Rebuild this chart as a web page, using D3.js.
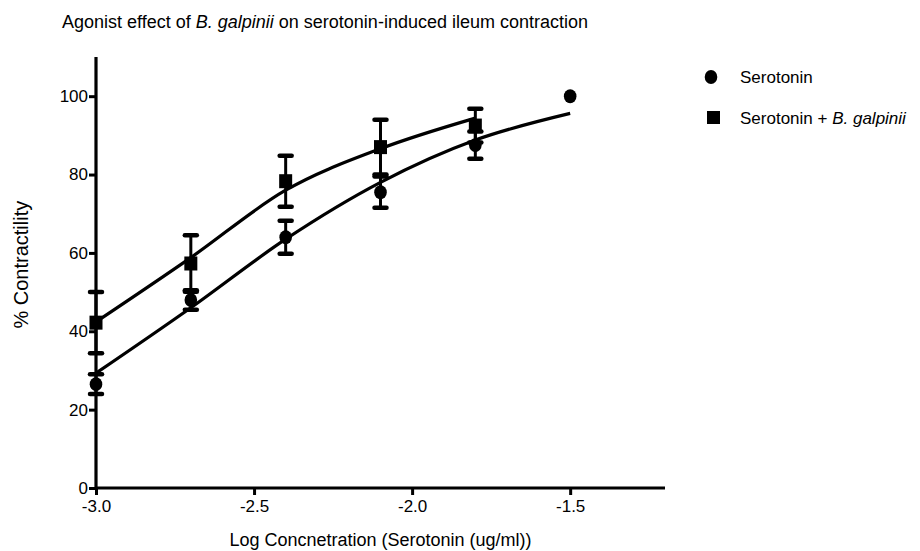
<!DOCTYPE html>
<html>
<head>
<meta charset="utf-8">
<script src="https://cdn.jsdelivr.net/npm/d3@7"></script>
<style>
  body { margin: 0; background: #fff; }
  svg { font-family: "Liberation Sans", Arial, sans-serif; }
</style>
</head>
<body>
<script>
// doses (log concentration)
const logDose = [-3.0, -2.7, -2.4, -2.1, -1.8, -1.5];

// mean % contractility and error
const serotoninMean = [26.5, 48.0, 64.0, 75.5, 87.5, 100.0];
const serotoninErr  = [2.5, 2.5, 4.2, 4.0, 3.5, 0];
const combinedDose  = [-3.0, -2.7, -2.4, -2.1, -1.8];
const combinedMean  = [42.2, 57.3, 78.3, 87.0, 92.5];
const combinedErr   = [7.8, 7.2, 6.5, 7.0, 4.3];

// fitted curve, sampled from the figure
const serotoninFit = [29.3, 46.0, 63.5, 78.0, 88.8, 95.6];
const combinedFit  = [42.4, 58.8, 76.0, 86.6, 94.4];

const xTicks = [-3.0, -2.5, -2.0, -1.5];
const yTicks = [0, 20, 40, 60, 80, 100];

const W = 920, H = 551;
const margin = { top: 57, right: 255, bottom: 63, left: 96 };

const svg = d3.select('body').append('svg')
  .attr('width', W)
  .attr('height', H);

const x = d3.scaleLinear().domain([-3, -1.2]).range([margin.left, W - margin.right]);
const y = d3.scaleLinear().domain([0, 110]).range([H - margin.bottom, margin.top]);

// title
const title = svg.append('text')
  .attr('x', 62).attr('y', 28)
  .style('font-size', '18px');
title.append('tspan').text('Agonist effect of ');
title.append('tspan').style('font-style', 'italic').text('B. galpinii');
title.append('tspan').text(' on serotonin-induced ileum contraction');

// axes
const xAxis = svg.append('g')
  .attr('transform', `translate(0,${y(0)})`)
  .call(d3.axisBottom(x).tickValues(xTicks).tickFormat(d3.format('.1f')).tickSize(7).tickSizeOuter(0));
const yAxis = svg.append('g')
  .attr('transform', `translate(${x(-3)},0)`)
  .call(d3.axisLeft(y).tickValues(yTicks).tickSize(7).tickSizeOuter(0));

[xAxis, yAxis].forEach(g => {
  g.select('.domain').attr('stroke', '#000').attr('stroke-width', 3.2);
  g.selectAll('.tick line').attr('stroke', '#000').attr('stroke-width', 3);
  g.selectAll('.tick text').attr('fill', '#000').style('font-size', '17px').style('font-family', '"Liberation Sans", Arial, sans-serif');
});
xAxis.selectAll('.tick text').attr('dy', '0.8em').text(d => d3.format('.1f')(d).replace('\u2212', '-'));
yAxis.selectAll('.tick text').attr('dx', '2px');
xAxis.select('.domain').attr('d', `M${x(-3)},0H${x(-1.2)}`);
yAxis.select('.domain').attr('d', `M0,${y(0)}V${y(110)}`);

// axis titles
svg.append('text')
  .attr('x', (x(-3) + x(-1.2)) / 2).attr('y', 546)
  .attr('text-anchor', 'middle')
  .style('font-size', '18px')
  .text('Log Concnetration (Serotonin (ug/ml))');
svg.append('text')
  .attr('transform', `translate(28,${y(57)}) rotate(-90)`)
  .attr('text-anchor', 'middle')
  .style('font-size', '20px')
  .text('% Contractility');

// curves
const line = d3.line().x(d => x(d[0])).y(d => y(d[1])).curve(d3.curveMonotoneX);
const plot = svg.append('g');
plot.append('path')
  .datum(d3.zip(logDose, serotoninFit))
  .attr('d', line).attr('fill', 'none').attr('stroke', '#000').attr('stroke-width', 3.2);
plot.append('path')
  .datum(d3.zip(combinedDose, combinedFit))
  .attr('d', line).attr('fill', 'none').attr('stroke', '#000').attr('stroke-width', 3.2);

// error bars
function errorBars(dose, mean, err) {
  const g = plot.append('g');
  const data = d3.zip(dose, mean, err).filter(d => d[2] > 0);
  g.selectAll('line.v').data(data).join('line')
    .attr('x1', d => x(d[0])).attr('x2', d => x(d[0]))
    .attr('y1', d => y(d[1] - d[2])).attr('y2', d => y(d[1] + d[2]))
    .attr('stroke', '#000').attr('stroke-width', 3);
  [-1, 1].forEach(s => {
    g.selectAll('line.c' + (s + 1)).data(data).join('line')
      .attr('x1', d => x(d[0]) - 6).attr('x2', d => x(d[0]) + 6)
      .attr('y1', d => y(d[1] + s * d[2])).attr('y2', d => y(d[1] + s * d[2]))
      .attr('stroke', '#000').attr('stroke-width', 4.5).attr('stroke-linecap', 'round');
  });
}
errorBars(logDose, serotoninMean, serotoninErr);
errorBars(combinedDose, combinedMean, combinedErr);

// markers
plot.selectAll('ellipse.ser').data(d3.zip(logDose, serotoninMean)).join('ellipse')
  .attr('cx', d => x(d[0])).attr('cy', d => y(d[1]))
  .attr('rx', 6.3).attr('ry', 7).attr('fill', '#000');
plot.selectAll('rect.comb').data(d3.zip(combinedDose, combinedMean)).join('rect')
  .attr('x', d => x(d[0]) - 6.5).attr('y', d => y(d[1]) - 7)
  .attr('width', 13).attr('height', 14).attr('fill', '#000');

// legend
const legend = svg.append('g');
legend.append('ellipse').attr('cx', 711).attr('cy', 77).attr('rx', 6.3).attr('ry', 7).attr('fill', '#000');
legend.append('text').attr('x', 740).attr('y', 83).style('font-size', '17px').text('Serotonin');
legend.append('rect').attr('x', 707).attr('y', 111).attr('width', 13).attr('height', 13).attr('fill', '#000');
const lt = legend.append('text').attr('x', 740).attr('y', 124).style('font-size', '17px');
lt.append('tspan').text('Serotonin + ');
lt.append('tspan').style('font-style', 'italic').text('B. galpinii');
</script>
</body>
</html>
